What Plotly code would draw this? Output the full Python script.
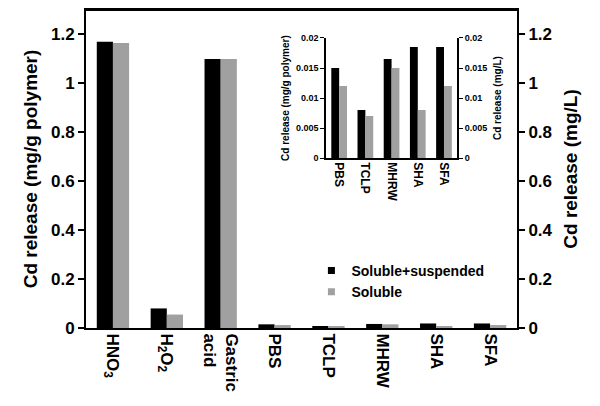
import plotly.graph_objects as go

# main chart data
categories = ["HNO<sub>3</sub>", "H<sub>2</sub>O<sub>2</sub>", "Gastric<br>acid",
              "PBS", "TCLP", "MHRW", "SHA", "SFA"]
sol_susp = [1.17, 0.08, 1.10, 0.015, 0.008, 0.0165, 0.0185, 0.0185]
soluble = [1.165, 0.055, 1.10, 0.012, 0.007, 0.015, 0.008, 0.012]

# inset data
inset_cats = ["PBS", "TCLP", "MHRW", "SHA", "SFA"]
inset_susp = [0.015, 0.008, 0.0165, 0.0185, 0.0185]
inset_sol = [0.012, 0.007, 0.015, 0.008, 0.012]

main_ticks = [0, 0.2, 0.4, 0.6, 0.8, 1, 1.2]
main_labels = ["0", "0.2", "0.4", "0.6", "0.8", "1", "1.2"]
inset_ticks = [0, 0.005, 0.01, 0.015, 0.02]
inset_labels = ["0", "0.005", "0.01", "0.015", "0.02"]

BLACK = "#000000"
GREY = "#a0a0a0"
FONT = "Liberation Sans, Arial, sans-serif"

fig = go.Figure()

# bars
fig.add_trace(go.Bar(x=categories, y=sol_susp, showlegend=False,
                     marker=dict(color=BLACK, line=dict(width=0)),
                     xaxis="x", yaxis="y"))
fig.add_trace(go.Bar(x=categories, y=soluble, showlegend=False,
                     marker=dict(color=GREY, line=dict(width=0)),
                     xaxis="x", yaxis="y"))
fig.add_trace(go.Bar(x=inset_cats, y=inset_susp, showlegend=False,
                     marker=dict(color=BLACK, line=dict(width=0)),
                     xaxis="x2", yaxis="y3"))
fig.add_trace(go.Bar(x=inset_cats, y=inset_sol, showlegend=False,
                     marker=dict(color=GREY, line=dict(width=0)),
                     xaxis="x2", yaxis="y3"))

# invisible traces so the right-hand axes get drawn
fig.add_trace(go.Scatter(x=categories, y=sol_susp, mode="markers",
                         marker=dict(opacity=0), showlegend=False, hoverinfo="skip",
                         xaxis="x", yaxis="y2"))
fig.add_trace(go.Scatter(x=inset_cats, y=inset_susp, mode="markers",
                         marker=dict(opacity=0), showlegend=False, hoverinfo="skip",
                         xaxis="x2", yaxis="y4"))

# legend entries with small squares
fig.add_trace(go.Scatter(x=[None], y=[None], mode="markers", name="Soluble+suspended",
                         marker=dict(symbol="square", size=7, color=BLACK)))
fig.add_trace(go.Scatter(x=[None], y=[None], mode="markers", name="Soluble",
                         marker=dict(symbol="square", size=7, color=GREY)))

tick_font = dict(family=FONT, size=17, color="black", weight="bold")
title_font = dict(family=FONT, size=19, color="black", weight="bold")
small_tick = dict(family=FONT, size=9, color="black", weight="bold")
small_title = dict(family=FONT, size=10, color="black", weight="bold")

# page body adds an 8px offset, so the figure is 8px smaller than the window
fig.update_layout(
    width=592, height=398,
    margin=dict(l=78, r=83, t=2, b=78),
    plot_bgcolor="white", paper_bgcolor="white",
    barmode="group", bargap=0.4, bargroupgap=0,
    font=dict(family=FONT, color="black"),
    xaxis=dict(
        domain=[0, 1], anchor="y", automargin=False,
        showline=True, linecolor="black", linewidth=2, mirror=True,
        ticks="", tickangle=90, tickfont=tick_font, ticklabelstandoff=0,
        showgrid=False,
    ),
    yaxis=dict(
        domain=[0, 1], anchor="x", range=[0, 1.3], automargin=False,
        tickvals=main_ticks, ticktext=main_labels,
        showline=True, linecolor="black", linewidth=2,
        ticks="outside", ticklen=6, tickwidth=1.5, tickcolor="black",
        tickfont=tick_font, showgrid=False, zeroline=False,
        title=dict(text="Cd release (mg/g polymer)", font=title_font, standoff=8),
    ),
    yaxis2=dict(
        overlaying="y", side="right", anchor="x", range=[0, 1.3], automargin=False,
        tickvals=main_ticks, ticktext=main_labels,
        showline=True, linecolor="black", linewidth=2,
        ticks="outside", ticklen=6, tickwidth=1.5, tickcolor="black",
        tickfont=tick_font, showgrid=False, zeroline=False,
        title=dict(text="Cd release (mg/L)", font=title_font, standoff=12),
    ),
    xaxis2=dict(
        domain=[0.557, 0.861], anchor="y3", automargin=False,
        showline=True, linecolor="black", linewidth=1.5,
        ticks="", tickangle=90, tickfont=dict(family=FONT, size=12, color="black", weight="bold"),
        ticklabelstandoff=0, showgrid=False,
    ),
    yaxis3=dict(
        domain=[0.534, 0.912], anchor="x2", range=[0, 0.02], automargin=False,
        tickvals=inset_ticks, ticktext=inset_labels,
        showline=True, linecolor="black", linewidth=1.5,
        ticks="outside", ticklen=4, tickwidth=1, tickcolor="black",
        tickfont=small_tick, showgrid=False, zeroline=False,
        title=dict(text="Cd release (mg/g polymer)", font=small_title, standoff=4),
    ),
    yaxis4=dict(
        overlaying="y3", side="right", anchor="x2", range=[0, 0.02], automargin=False,
        tickvals=inset_ticks, ticktext=inset_labels,
        showline=True, linecolor="black", linewidth=1.5,
        ticks="outside", ticklen=4, tickwidth=1, tickcolor="black",
        tickfont=small_tick, showgrid=False, zeroline=False,
        title=dict(text="Cd release (mg/L)", font=small_title, standoff=8),
    ),
    legend=dict(
        x=0.523, y=0.23, xanchor="left", yanchor="top",
        bgcolor="rgba(0,0,0,0)", font=dict(family=FONT, size=14, color="black", weight="bold"),
        itemwidth=30, tracegroupgap=0,
    ),
    # top edge of the plot frame
    shapes=[dict(type="line", xref="paper", yref="paper", x0=0, x1=1, y0=1, y1=1,
                 line=dict(color="black", width=2))],
)

fig.write_html("out.html")
